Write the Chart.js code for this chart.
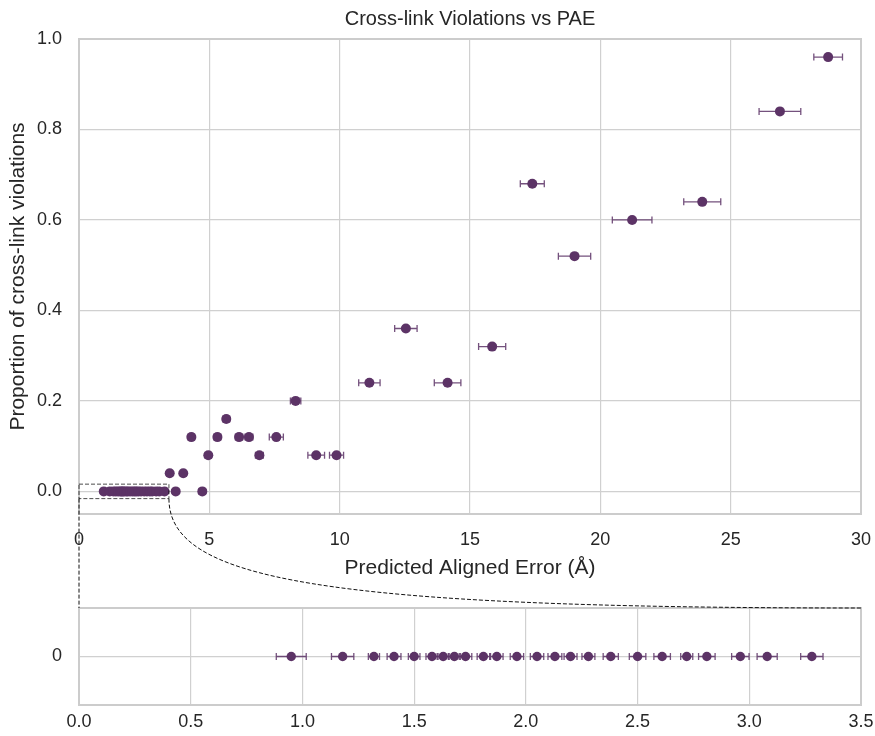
<!DOCTYPE html>
<html>
<head>
<meta charset="utf-8">
<script src="https://cdn.jsdelivr.net/npm/chart.js@4.4.1/dist/chart.umd.min.js"></script>
<style>
  html, body { margin: 0; padding: 0; background: #fff; }
  #wrap { position: relative; width: 875px; height: 736px; }
  #mainChart { position: absolute; left: 0; top: 0; }
  #zoomChart { position: absolute; left: 0; top: 590px; }
  #overlay { position: absolute; left: 0; top: 0; pointer-events: none; }
</style>
</head>
<body>
<div id="wrap">
  <canvas id="mainChart" width="875" height="590"></canvas>
  <canvas id="zoomChart" width="875" height="146"></canvas>
  <canvas id="overlay" width="875" height="736"></canvas>
</div>
<script>
// points with no violations, shown in the zoom panel
const clusterPae = [0.95, 1.18, 1.32, 1.41, 1.50, 1.58, 1.63, 1.68, 1.73, 1.81, 1.87, 1.96,
                    2.05, 2.13, 2.20, 2.28, 2.38, 2.50, 2.61, 2.72, 2.81, 2.96, 3.08, 3.28];
const clusterErr = [0.067, 0.05, 0.025, 0.031, 0.026, 0.027, 0.027, 0.027, 0.028, 0.028, 0.028, 0.03,
                    0.03, 0.031, 0.029, 0.029, 0.034, 0.037, 0.037, 0.027, 0.037, 0.039, 0.045, 0.05];

// remaining bins
const otherPae  = [3.48, 3.71, 4.00, 4.31, 4.73, 4.96, 5.31, 5.65, 6.14, 6.52, 6.92, 7.57, 8.31,
                   9.10, 9.88, 11.14, 12.54, 14.14, 15.85, 17.39, 19.01, 21.22, 23.91, 26.89, 28.74];
const otherViol = [0.04, 0, 0.04, 0.12, 0, 0.08, 0.12, 0.16, 0.12, 0.12, 0.08, 0.12, 0.20,
                   0.08, 0.08, 0.24, 0.36, 0.24, 0.32, 0.68, 0.52, 0.60, 0.64, 0.84, 0.96];
const otherErr  = [0.1, 0.1, 0.1, 0.12, 0.12, 0.12, 0.13, 0.13, 0.14, 0.15, 0.15, 0.27, 0.2,
                   0.32, 0.27, 0.41, 0.43, 0.51, 0.52, 0.46, 0.62, 0.76, 0.71, 0.8, 0.55];

const xTicks = [0, 5, 10, 15, 20, 25, 30];
const yTicks = [0, 0.2, 0.4, 0.6, 0.8, 1.0];
const zoomXTicks = [0, 0.5, 1.0, 1.5, 2.0, 2.5, 3.0, 3.5];
const zoomYTicks = [0];

const purple = '#5c3366';
const barColor = 'rgba(92, 51, 102, 0.85)';
const gridColor = '#d0d0d0';
const textColor = '#262626';

Chart.defaults.font.family = '"Liberation Sans", Arial, sans-serif';
Chart.defaults.color = textColor;

// horizontal error bars with caps
const errorBars = {
  id: 'errorBars',
  beforeDatasetsDraw(chart) {
    const ctx = chart.ctx;
    const xs = chart.scales.x, ys = chart.scales.y;
    chart.data.datasets.forEach(ds => {
      ctx.save();
      ctx.strokeStyle = barColor;
      ctx.lineWidth = 1.3;
      ds.data.forEach((p, i) => {
        const e = ds.xErr[i];
        const y = ys.getPixelForValue(p.y);
        const x1 = xs.getPixelForValue(p.x - e);
        const x2 = xs.getPixelForValue(p.x + e);
        ctx.beginPath();
        ctx.moveTo(x1, y); ctx.lineTo(x2, y);
        ctx.moveTo(x1, y - 3.5); ctx.lineTo(x1, y + 3.5);
        ctx.moveTo(x2, y - 3.5); ctx.lineTo(x2, y + 3.5);
        ctx.stroke();
      });
      ctx.restore();
    });
  }
};

// light grey box round the plot area
const frame = {
  id: 'frame',
  beforeDatasetsDraw(chart) {
    const a = chart.chartArea, ctx = chart.ctx;
    ctx.save();
    ctx.strokeStyle = '#cccccc';
    ctx.lineWidth = 2;
    ctx.strokeRect(a.left, a.top, a.right - a.left, a.bottom - a.top);
    ctx.restore();
  }
};

// dashed box marking the zoomed region
const zoomBoxX = 3.45, zoomBoxY = 0.016;
const zoomBox = {
  id: 'zoomBox',
  afterDatasetsDraw(chart) {
    const xs = chart.scales.x, ys = chart.scales.y, ctx = chart.ctx;
    const l = xs.getPixelForValue(0), r = xs.getPixelForValue(zoomBoxX);
    const t = ys.getPixelForValue(zoomBoxY), b = ys.getPixelForValue(-zoomBoxY);
    ctx.save();
    ctx.strokeStyle = 'rgba(0,0,0,0.7)';
    ctx.lineWidth = 1;
    ctx.setLineDash([4, 2]);
    ctx.strokeRect(l, t, r - l, b - t);
    ctx.restore();
  }
};

function fixedTicks(list) {
  return axis => { axis.ticks = list.map(v => ({ value: v })); };
}
// fixed axis sizes, no extra edge padding from labels
function fitX(h) {
  return s => { s.height = h; s.paddingLeft = 0; s.paddingRight = 0; };
}
function fitY(w) {
  return s => { s.width = w; s.paddingTop = 0; s.paddingBottom = 0; };
}

const mainData = clusterPae.map(x => ({ x: x, y: 0 }))
  .concat(otherPae.map((x, i) => ({ x: x, y: otherViol[i] })));
const mainErr = clusterErr.concat(otherErr);

const mainChart = new Chart(document.getElementById('mainChart'), {
  type: 'scatter',
  data: {
    datasets: [{
      data: mainData,
      xErr: mainErr,
      backgroundColor: purple,
      borderWidth: 0,
      pointRadius: 5
    }]
  },
  options: {
    responsive: false,
    animation: false,
    layout: { padding: { left: 0, right: 14, top: 0, bottom: 0 } },
    plugins: {
      legend: { display: false },
      tooltip: { enabled: false },
      title: {
        display: true,
        fullSize: false,
        text: 'Cross-link Violations vs PAE',
        font: { size: 20, weight: 'normal' },
        color: textColor,
        padding: { top: 7, bottom: 8 }
      }
    },
    scales: {
      x: {
        type: 'linear',
        min: 0, max: 30,
        afterBuildTicks: fixedTicks(xTicks),
        afterFit: fitX(76),
        grid: { color: gridColor, lineWidth: 1.2, drawTicks: false },
        border: { display: false },
        ticks: { font: { size: 18 }, padding: 15, color: textColor, callback: v => String(v) },
        title: { display: true, text: 'Predicted Aligned Error (Å)', font: { size: 21 }, color: textColor,
                 padding: { top: 0, bottom: 9.4 } }
      },
      y: {
        type: 'linear',
        min: -0.05, max: 1.0,
        afterBuildTicks: fixedTicks(yTicks),
        afterFit: fitY(79),
        grid: { color: gridColor, lineWidth: 1.2, drawTicks: false },
        border: { display: false },
        ticks: { font: { size: 18 }, padding: 17, color: textColor, callback: v => v.toFixed(1) },
        title: { display: true, text: 'Proportion of cross-link violations', font: { size: 21 }, color: textColor,
                 padding: { top: 5.4, bottom: 0 } }
      }
    }
  },
  plugins: [frame, errorBars, zoomBox]
});

const zoomChart = new Chart(document.getElementById('zoomChart'), {
  type: 'scatter',
  data: {
    datasets: [{
      data: clusterPae.map(x => ({ x: x, y: 0 })),
      xErr: clusterErr,
      backgroundColor: purple,
      borderWidth: 0,
      pointRadius: 4.7
    }]
  },
  options: {
    responsive: false,
    animation: false,
    layout: { padding: { left: 0, right: 14, top: 18, bottom: 0 } },
    plugins: { legend: { display: false }, tooltip: { enabled: false } },
    scales: {
      x: {
        type: 'linear',
        min: 0, max: 3.5,
        afterBuildTicks: fixedTicks(zoomXTicks),
        afterFit: fitX(31),
        grid: { color: gridColor, lineWidth: 1.2, drawTicks: false },
        border: { display: false },
        ticks: { font: { size: 18 }, padding: 6.2, color: textColor, callback: v => v.toFixed(1) }
      },
      y: {
        type: 'linear',
        min: -1, max: 1,
        afterBuildTicks: fixedTicks(zoomYTicks),
        afterFit: fitY(79),
        grid: { color: gridColor, lineWidth: 1.2, drawTicks: false },
        border: { display: false },
        ticks: { font: { size: 18 }, padding: 17, color: textColor, callback: v => String(v) }
      }
    }
  },
  plugins: [frame, errorBars]
});

// dashed connectors from the zoom box down to the zoom panel
function drawConnectors() {
  const ctx = document.getElementById('overlay').getContext('2d');
  const mx = mainChart.scales.x, my = mainChart.scales.y;
  const za = zoomChart.chartArea;
  const offY = 590;
  const sx0 = mx.getPixelForValue(0), sx1 = mx.getPixelForValue(zoomBoxX);
  const sy = my.getPixelForValue(-zoomBoxY);
  const ex0 = za.left, ex1 = za.right, ey = za.top + offY;
  ctx.save();
  ctx.strokeStyle = '#111';
  ctx.lineWidth = 1;
  ctx.setLineDash([4, 2]);
  ctx.beginPath();
  ctx.moveTo(sx0, sy); ctx.lineTo(ex0, ey);
  ctx.stroke();
  ctx.beginPath();
  ctx.moveTo(sx1, sy);
  ctx.bezierCurveTo(sx1, sy + 0.74 * (ey - sy), sx1 + 0.22 * (ex1 - sx1), ey, ex1, ey);
  ctx.stroke();
  ctx.restore();
}
drawConnectors();
</script>
</body>
</html>
